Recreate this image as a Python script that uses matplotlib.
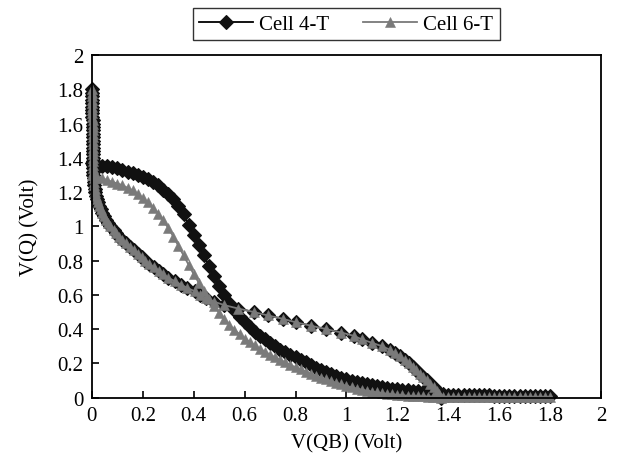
import matplotlib
matplotlib.use("Agg")
import matplotlib.pyplot as plt
from matplotlib.ticker import FuncFormatter, MultipleLocator

# Swept node voltage (V), 0 to 1.8 V in 20 mV steps
sweep = [0.00, 0.02, 0.04, 0.06, 0.08, 0.10, 0.12, 0.14, 0.16, 0.18,
         0.20, 0.22, 0.24, 0.26, 0.28, 0.30, 0.32, 0.34, 0.36, 0.38,
         0.40, 0.42, 0.44, 0.46, 0.48, 0.50, 0.52, 0.54, 0.56, 0.58,
         0.60, 0.62, 0.64, 0.66, 0.68, 0.70, 0.72, 0.74, 0.76, 0.78,
         0.80, 0.82, 0.84, 0.86, 0.88, 0.90, 0.92, 0.94, 0.96, 0.98,
         1.00, 1.02, 1.04, 1.06, 1.08, 1.10, 1.12, 1.14, 1.16, 1.18,
         1.20, 1.22, 1.24, 1.26, 1.28, 1.30, 1.32, 1.34, 1.36, 1.38,
         1.40, 1.42, 1.44, 1.46, 1.48, 1.50, 1.52, 1.54, 1.56, 1.58,
         1.60, 1.62, 1.64, 1.66, 1.68, 1.70, 1.72, 1.74, 1.76, 1.78,
         1.80]

# V(Q) versus swept V(QB), 4-T cell
vq_4t = [1.370, 1.360, 1.355, 1.350, 1.345, 1.340, 1.330, 1.320, 1.310, 1.300,
         1.290, 1.275, 1.260, 1.240, 1.215, 1.190, 1.160, 1.120, 1.070, 1.010,
         0.950, 0.890, 0.830, 0.770, 0.710, 0.650, 0.600, 0.550, 0.510, 0.470,
         0.440, 0.410, 0.385, 0.360, 0.340, 0.320, 0.300, 0.280, 0.265, 0.250,
         0.235, 0.220, 0.205, 0.190, 0.175, 0.162, 0.150, 0.138, 0.127, 0.117,
         0.107, 0.098, 0.090, 0.083, 0.077, 0.071, 0.066, 0.061, 0.057, 0.053,
         0.049, 0.046, 0.042, 0.039, 0.036, 0.033, 0.030, 0.027, 0.024, 0.020,
         0.017, 0.016, 0.015, 0.015, 0.014, 0.014, 0.013, 0.013, 0.013, 0.012,
         0.012, 0.012, 0.012, 0.011, 0.011, 0.011, 0.011, 0.010, 0.010, 0.010,
         0.010]

# V(Q) versus swept V(QB), 6-T cell
vq_6t = [1.300, 1.290, 1.280, 1.270, 1.260, 1.250, 1.240, 1.225, 1.210, 1.190,
         1.165, 1.140, 1.110, 1.075, 1.035, 0.990, 0.940, 0.885, 0.830, 0.775,
         0.720, 0.670, 0.620, 0.575, 0.535, 0.495, 0.460, 0.425, 0.395, 0.370,
         0.345, 0.325, 0.305, 0.285, 0.268, 0.250, 0.235, 0.220, 0.205, 0.190,
         0.177, 0.165, 0.152, 0.140, 0.128, 0.117, 0.106, 0.096, 0.086, 0.077,
         0.068, 0.060, 0.053, 0.046, 0.040, 0.035, 0.030, 0.026, 0.022, 0.019,
         0.016, 0.013, 0.011, 0.009, 0.008, 0.007, 0.006, 0.006, 0.006, 0.005,
         0.005, 0.005, 0.005, 0.004, 0.004, 0.004, 0.004, 0.004, 0.004, 0.003,
         0.003, 0.003, 0.003, 0.003, 0.003, 0.003, 0.003, 0.003, 0.003, 0.003,
         0.003]

# V(QB) versus swept V(Q) (second inverter, common to both cells)
vqb = [1.370, 1.365, 1.355, 1.345, 1.330, 1.315, 1.300, 1.290, 1.275, 1.260,
       1.245, 1.230, 1.210, 1.190, 1.170, 1.140, 1.100, 1.060, 1.030, 0.980,
       0.920, 0.860, 0.800, 0.750, 0.690, 0.635, 0.575, 0.520, 0.480, 0.450,
       0.425, 0.405, 0.375, 0.350, 0.325, 0.300, 0.280, 0.265, 0.245, 0.225,
       0.210, 0.195, 0.180, 0.165, 0.150, 0.135, 0.120, 0.105, 0.095, 0.085,
       0.072, 0.063, 0.055, 0.047, 0.040, 0.034, 0.029, 0.024, 0.020, 0.017,
       0.014, 0.012, 0.010, 0.008, 0.007, 0.006, 0.005, 0.005, 0.005, 0.004,
       0.004, 0.004, 0.004, 0.004, 0.003, 0.003, 0.003, 0.003, 0.003, 0.003,
       0.003, 0.003, 0.002, 0.002, 0.002, 0.002, 0.002, 0.002, 0.002, 0.002,
       0.002]

series_names = ["Cell 4-T", "Cell 6-T"]

plt.rcParams["font.family"] = ["Liberation Serif", "DejaVu Serif"]
plt.rcParams["font.size"] = 15

fig = plt.figure(figsize=(6.17, 4.64), dpi=100)
ax = fig.add_axes([0.149, 0.141, 0.825, 0.738])

style_4t = dict(color="black", lw=1.3, marker="D", markersize=7.5,
                markerfacecolor="#111111", markeredgecolor="#111111",
                markeredgewidth=0.8, clip_on=False)
style_6t = dict(color="#7a7a7a", lw=1.3, marker="^", markersize=7.5,
                markerfacecolor="#7a7a7a", markeredgecolor="#7a7a7a",
                markeredgewidth=0.4, clip_on=False)

# 4-T cell: both transfer curves
l4, = ax.plot(sweep, vq_4t, label=series_names[0], **style_4t)
ax.plot(vqb, sweep, **style_4t)
# 6-T cell: both transfer curves, drawn over the 4-T ones
l6, = ax.plot(sweep, vq_6t, label=series_names[1], **style_6t)
ax.plot(vqb, sweep, **style_6t)

ax.set_xlim(0, 2)
ax.set_ylim(0, 2)
ax.xaxis.set_major_locator(MultipleLocator(0.2))
ax.yaxis.set_major_locator(MultipleLocator(0.2))
fmt = FuncFormatter(lambda v, p: f"{v:.1f}".rstrip("0").rstrip(".") if abs(v) > 1e-9 else "0")
ax.xaxis.set_major_formatter(fmt)
ax.yaxis.set_major_formatter(fmt)
ax.tick_params(direction="in", length=5, width=1.2, top=False, right=False, pad=6)
for s in ax.spines.values():
    s.set_linewidth(1.3)

ax.set_xlabel("V(QB) (Volt)", labelpad=6)
ax.set_ylabel("V(Q) (Volt)", labelpad=13)

leg = fig.legend(handles=[l4, l6], loc="center", bbox_to_anchor=(0.561, 0.946),
                 ncol=2, frameon=True, fancybox=False, edgecolor="black",
                 handlelength=2.6, columnspacing=1.6, borderpad=0.3, handletextpad=0.3)
leg.get_frame().set_linewidth(1.0)

fig.savefig("out.png", dpi=100)
